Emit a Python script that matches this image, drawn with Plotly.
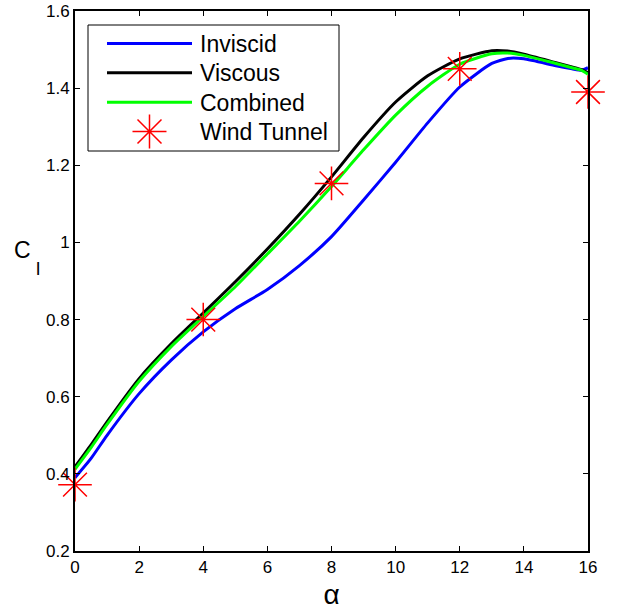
import plotly.graph_objects as go

# Lift coefficient vs. angle of attack
alpha = [0, 0.5, 1, 2, 3, 4, 5, 6, 7, 8, 9, 10, 11, 12, 13, 13.5, 14, 15, 15.5, 15.8, 16]

cl_inviscid = [0.390, 0.440, 0.500, 0.608, 0.695, 0.768, 0.828, 0.878, 0.940, 1.015,
               1.110, 1.208, 1.310, 1.403, 1.464, 1.477, 1.476, 1.458, 1.450, 1.446, 1.453]
cl_viscous = [0.418, 0.475, 0.535, 0.647, 0.737, 0.817, 0.898, 0.983, 1.073, 1.170,
              1.272, 1.364, 1.432, 1.476, 1.497, 1.496, 1.488, 1.466, 1.455, 1.448, 1.440]
cl_combined = [0.412, 0.468, 0.528, 0.640, 0.730, 0.808, 0.885, 0.970, 1.055, 1.145,
               1.240, 1.330, 1.405, 1.462, 1.489, 1.491, 1.485, 1.464, 1.453, 1.446, 1.436]

alpha_tunnel = [0, 4, 8, 12, 16]
cl_tunnel = [0.372, 0.800, 1.153, 1.450, 1.390]

x_ticks = [0, 2, 4, 6, 8, 10, 12, 14, 16]
y_ticks = [0.2, 0.4, 0.6, 0.8, 1.0, 1.2, 1.4, 1.6]
y_tick_text = ["0.2", "0.4", "0.6", "0.8", "1", "1.2", "1.4", "1.6"]

series_names = ["Inviscid", "Viscous", "Combined", "Wind Tunnel"]
series_colors = ["#0000FF", "#000000", "#00FF00", "#FF0000"]

FONT = "Liberation Sans, Arial, sans-serif"

# figure / plot-area geometry in pixels
W, H = 620, 616
L, R, T, B = 75, 32, 11, 65
PW, PH = W - L - R, H - T - B


def px_x(px):
    return (px - L) / PW


def px_y(py):
    return (H - B - py) / PH


fig = go.Figure()
for ys, name, color in zip([cl_inviscid, cl_viscous, cl_combined], series_names[:3], series_colors[:3]):
    fig.add_trace(go.Scatter(x=alpha, y=ys, mode="lines", name=name, showlegend=False,
                             line=dict(color=color, width=3, shape="spline", smoothing=0.6)))
fig.add_trace(go.Scatter(x=alpha_tunnel, y=cl_tunnel, mode="markers", name=series_names[3],
                         showlegend=False, cliponaxis=False,
                         marker=dict(symbol="asterisk-open", size=28, color=series_colors[3],
                                     line=dict(color=series_colors[3], width=1.5))))

axis_common = dict(
    showline=True, linecolor="black", linewidth=2, mirror="allticks",
    ticks="inside", ticklen=5, tickwidth=1, tickcolor="black",
    showgrid=False, zeroline=False, automargin=False,
    tickfont=dict(family=FONT, size=17, color="black"),
)

fig.update_xaxes(range=[0, 16], tickvals=x_ticks, **axis_common,
                 title=dict(text="α", font=dict(family=FONT, size=28, color="black"), standoff=8))
fig.update_yaxes(range=[0.2, 1.6], tickvals=y_ticks, ticktext=y_tick_text, **axis_common)

# upright y-axis label with subscript
fig.add_annotation(text="C", xref="paper", yref="paper", x=px_x(22.5), y=px_y(250),
                   xanchor="center", yanchor="middle", showarrow=False,
                   font=dict(family=FONT, size=23, color="black"))
fig.add_annotation(text="l", xref="paper", yref="paper", x=px_x(38.2), y=px_y(268),
                   xanchor="center", yanchor="middle", showarrow=False,
                   font=dict(family=FONT, size=19, color="black"))

# legend box with line samples, asterisk sample and labels
shapes = [dict(type="rect", xref="paper", yref="paper",
               x0=px_x(88), x1=px_x(339), y0=px_y(151), y1=px_y(25),
               line=dict(color="black", width=1), fillcolor="white", layer="above")]
row_y = [43.5, 72.8, 102.2, 131.5]
for i in range(3):
    shapes.append(dict(type="line", xref="paper", yref="paper",
                       x0=px_x(107), x1=px_x(192), y0=px_y(row_y[i]), y1=px_y(row_y[i]),
                       line=dict(color=series_colors[i], width=3), layer="above"))
cx, cy = 149.5, row_y[3]
rc, rs = 17.0, 12.0
arms = [((0, -rc), (0, rc)), ((-rc, 0), (rc, 0)), ((-rs, -rs), (rs, rs)), ((-rs, rs), (rs, -rs))]
path = " ".join(
    f"M{px_x(cx + a[0]):.5f},{px_y(cy + a[1]):.5f} L{px_x(cx + b[0]):.5f},{px_y(cy + b[1]):.5f}"
    for a, b in arms)
shapes.append(dict(type="path", xref="paper", yref="paper", path=path,
                   line=dict(color=series_colors[3], width=1.5), layer="above"))
for name, y in zip(series_names, row_y):
    fig.add_annotation(text=name, xref="paper", yref="paper", x=px_x(198), y=px_y(y + 0.5),
                       xanchor="left", yanchor="middle", showarrow=False,
                       font=dict(family=FONT, size=23, color="black"))

fig.update_layout(
    width=W, height=H,
    margin=dict(l=L, r=R, t=T, b=B),
    plot_bgcolor="white", paper_bgcolor="white",
    font=dict(family=FONT, color="black"),
    showlegend=False,
    shapes=shapes,
)

fig.write_html("out.html")
